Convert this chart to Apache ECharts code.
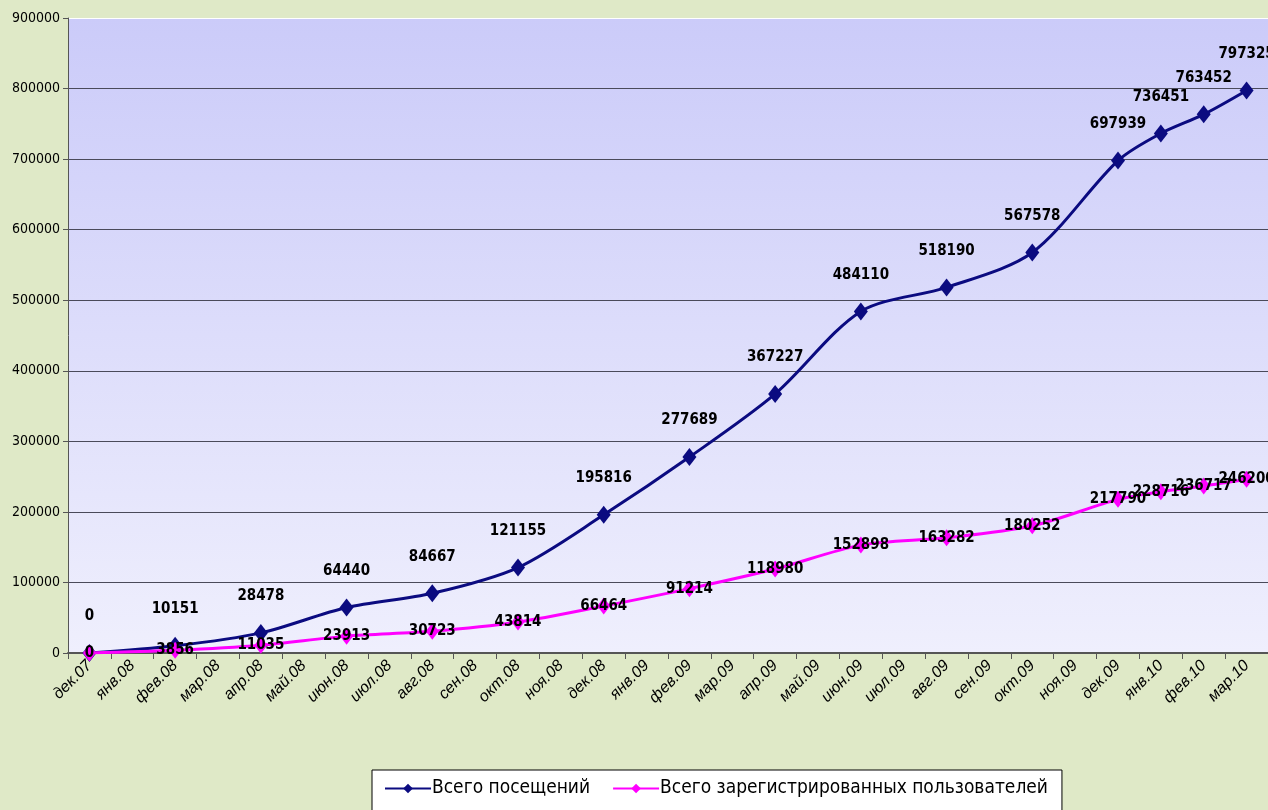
<!DOCTYPE html>
<html>
<head>
<meta charset="utf-8">
<script src="https://cdn.jsdelivr.net/npm/echarts@6/dist/echarts.min.js"></script>
<style>
  html, body { margin: 0; padding: 0; background: #dfe9c7; }
  #chart { width: 1268px; height: 810px; }
</style>
</head>
<body>
<div id="chart"></div>
<script>
// месяцы по оси X
var months = ['дек.07', 'янв.08', 'фев.08', 'мар.08', 'апр.08', 'май.08', 'июн.08', 'июл.08',
    'авг.08', 'сен.08', 'окт.08', 'ноя.08', 'дек.08', 'янв.09', 'фев.09', 'мар.09', 'апр.09',
    'май.09', 'июн.09', 'июл.09', 'авг.09', 'сен.09', 'окт.09', 'ноя.09', 'дек.09', 'янв.10',
    'фев.10', 'мар.10'];

// данные только для части месяцев, остальные пустые
var visits = [0, null, 10151, null, 28478, null, 64440, null, 84667, null, 121155, null,
    195816, null, 277689, null, 367227, null, 484110, null, 518190, null, 567578, null,
    697939, 736451, 763452, 797325];
var users = [0, null, 3856, null, 11035, null, 23913, null, 30723, null, 43814, null,
    66464, null, 91214, null, 118980, null, 152898, null, 163282, null, 180252, null,
    217790, 228716, 236717, 246200];

var yTicks = [0, 100000, 200000, 300000, 400000, 500000, 600000, 700000, 800000, 900000];

var narrow = "'DejaVu Sans Condensed', sans-serif";

var chart = echarts.init(document.getElementById('chart'));

var gridColors = yTicks.map(function (v, i) {
    return i === yTicks.length - 1 ? '#ffffff' : '#4a4a5a';
});

var option = {
    backgroundColor: '#dfe9c7',
    animation: false,
    grid: {
        left: 68,
        right: 0,
        top: 18,
        bottom: 157,
        show: true,
        borderWidth: 0,
        backgroundColor: new echarts.graphic.LinearGradient(0, 0, 0, 1, [
            { offset: 0, color: '#cbcbf9' },
            { offset: 1, color: '#efeffd' }
        ])
    },
    legend: {
        left: 372,
        top: 770,
        padding: [9, 14, 20, 12],
        itemGap: 22,
        itemWidth: 46,
        itemHeight: 12,
        backgroundColor: '#ffffff',
        borderColor: '#000000',
        borderWidth: 1,
        borderRadius: 0,
        textStyle: { fontFamily: narrow, fontSize: 19, color: '#000000', padding: [0, 0, 0, -4] },
        data: ['Всего посещений', 'Всего зарегистрированных пользователей']
    },
    xAxis: {
        type: 'category',
        boundaryGap: true,
        data: months,
        axisLine: { lineStyle: { color: '#555555', width: 2 } },
        axisTick: { show: true, length: 6, lineStyle: { color: '#555555' } },
        axisLabel: {
            interval: 0,
            rotate: 45,
            margin: 10,
            fontFamily: 'Liberation Sans, sans-serif',
            fontStyle: 'italic',
            fontSize: 16,
            color: '#000000'
        }
    },
    yAxis: {
        type: 'value',
        min: 0,
        max: 900000,
        interval: 100000,
        axisLine: { show: true, lineStyle: { color: '#555555', width: 1 } },
        axisTick: { show: true, length: 5, lineStyle: { color: '#555555' } },
        axisLabel: {
            margin: 8,
            fontFamily: narrow,
            fontSize: 14,
            color: '#000000',
            formatter: function (v) { return String(v); }
        },
        splitLine: { show: true, lineStyle: { color: gridColors, width: 1 } }
    },
    series: [
        {
            name: 'Всего посещений',
            type: 'line',
            data: visits,
            connectNulls: true,
            smooth: 0.3,
            symbol: 'diamond',
            symbolSize: [14, 18],
            itemStyle: { color: '#0b0b80' },
            lineStyle: { color: '#0b0b80', width: 3 },
            label: {
                show: true,
                position: 'top',
                distance: 20,
                fontFamily: narrow,
                fontWeight: 'bold',
                fontSize: 15,
                color: '#000000'
            },
            z: 3
        },
        {
            name: 'Всего зарегистрированных пользователей',
            type: 'line',
            data: users,
            connectNulls: true,
            smooth: 0.3,
            symbol: 'diamond',
            symbolSize: [13, 17],
            itemStyle: { color: '#ff00ff' },
            lineStyle: { color: '#ff00ff', width: 3 },
            label: {
                show: true,
                position: 'inside',
                fontFamily: narrow,
                fontWeight: 'bold',
                fontSize: 15,
                color: '#000000'
            },
            z: 4
        }
    ]
};

chart.setOption(option);
</script>
</body>
</html>
